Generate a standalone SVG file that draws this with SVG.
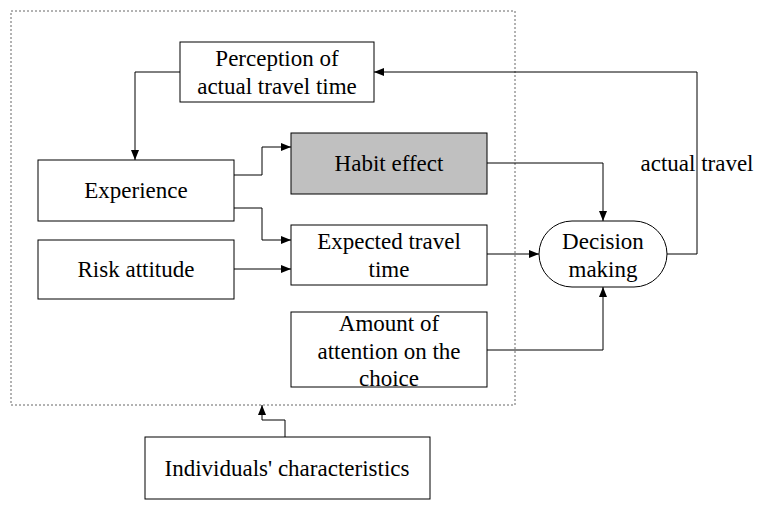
<svg xmlns="http://www.w3.org/2000/svg" width="770" height="506" viewBox="0 0 770 506">
<defs>
<marker id="a" markerWidth="10" markerHeight="8" refX="10" refY="4" orient="auto" markerUnits="userSpaceOnUse"><path d="M0,0 L10,4 L0,8 z" fill="#000"/></marker>
<style>
.b{fill:#fff;stroke:#000;stroke-width:1}
text{font-family:"Liberation Serif",serif;font-size:23px;text-anchor:middle;fill:#000}
.c{fill:none;stroke:#000;stroke-width:1;marker-end:url(#a)}
</style>
</defs>
<rect width="770" height="506" fill="#fff"/>
<rect x="11" y="11" width="504" height="394" fill="none" stroke="#666" stroke-dasharray="2,2"/>
<g id="perception"><rect class="b" x="180" y="42" width="194" height="60"/><text x="277" y="66">Perception of</text><text x="277" y="94">actual travel time</text></g>
<g id="experience"><rect class="b" x="38" y="160" width="196" height="61"/><text x="136" y="198">Experience</text></g>
<g id="habit"><rect x="291" y="133" width="196" height="61" fill="#c0c0c0" stroke="#000"/><text x="389" y="171">Habit effect</text></g>
<g id="risk"><rect class="b" x="38" y="240" width="196" height="59"/><text x="136" y="277">Risk attitude</text></g>
<g id="expected"><rect class="b" x="291" y="225" width="196" height="60"/><text x="389" y="249">Expected travel</text><text x="389" y="277">time</text></g>
<g id="amount"><rect class="b" x="291" y="312" width="196" height="75"/><text x="389" y="331">Amount of</text><text x="389" y="359">attention on the</text><text x="389" y="386">choice</text></g>
<g id="decision"><rect class="b" x="539" y="221" width="128" height="66" rx="33"/><text x="603" y="249">Decision</text><text x="603" y="277">making</text></g>
<g id="individuals"><rect class="b" x="145" y="437" width="285" height="62"/><text x="287" y="476">Individuals' characteristics</text></g>
<text x="697" y="171">actual travel</text>
<g id="connectors">
<path class="c" d="M667,254 H697 V72 H374"/>
<path class="c" d="M180,72 H135 V160"/>
<path class="c" d="M234,175 H262 V147 H291"/>
<path class="c" d="M234,208 H262 V240 H291"/>
<path class="c" d="M234,269 H291"/>
<path class="c" d="M487,254 H539"/>
<path class="c" d="M487,163 H603 V221"/>
<path class="c" d="M487,350 H603 V287"/>
<path class="c" d="M285,437 V420 H262 V405"/>
</g>
</svg>
